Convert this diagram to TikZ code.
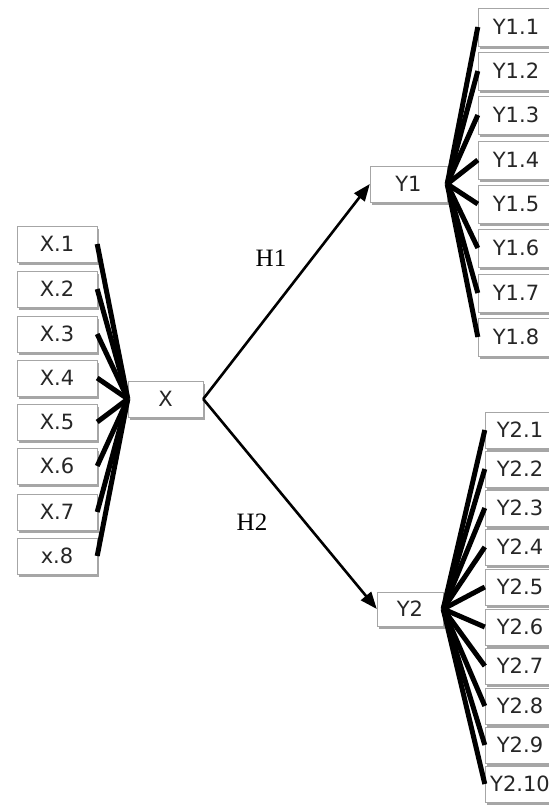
\documentclass[tikz,border=0pt]{standalone}
\usepackage{fontspec}
\setmainfont{DejaVu Sans}
\newfontfamily\hfont{Liberation Serif}
\usetikzlibrary{arrows.meta,shadows}

\tikzset{
  item/.style={draw=gray!70, fill=white, minimum height=36pt, inner sep=0pt,
    text=black!85, font=\fontsize{21}{24}\selectfont,
    drop shadow={shadow xshift=2pt, shadow yshift=-2.5pt, fill=gray!70, opacity=1}},
  fan/.style={line width=5pt},
  hyp/.style={line width=2.6pt, -{Triangle[length=17pt,width=13pt]}},
  hlabel/.style={font=\hfont\fontsize{25}{28}\selectfont}
}

\begin{document}
\begin{tikzpicture}[x=1pt,y=-1pt]
\useasboundingbox (0,0) rectangle (549,807);

% left side
\node[item,minimum width=75pt] (X) at (165.5,399) {X};
\foreach \i/\y/\t in {1/244/X.1,2/289/X.2,3/334/X.3,4/378/X.4,5/422/X.5,6/466/X.6,7/512/X.7,8/556/x.8}
  \node[item,minimum width=80pt] (x\i) at (57,\y) {\t};
\foreach \i in {1,...,8}
  \draw[fan] (x\i.east) -- (X.west);

% upper branch
\node[item,minimum width=77pt] (Y1) at (408.5,184) {Y1};
\foreach \i/\y in {1/27,2/71,3/115,4/160,5/204,6/248,7/293,8/337}
  \node[item,minimum width=76pt,minimum height=38pt] (y1\i) at (516,\y) {Y1.\i};
\foreach \i in {1,...,8}
  \draw[fan] (Y1.east) -- (y1\i.west);

% lower branch
\node[item,minimum width=66pt,minimum height=34pt] (Y2) at (410,609) {Y2};
\foreach \i/\y in {1/430,2/469,3/508,4/547,5/587,6/627,7/666,8/706,9/745,10/784}
  \node[item,minimum width=70pt] (y2\i) at (520,\y) {Y2.\i};
\foreach \i in {1,...,10}
  \draw[fan] (Y2.east) -- (y2\i.west);

% hypotheses
\draw[hyp] (X.east) -- (Y1.west);
\draw[hyp] (X.east) -- (Y2.west);
\node[hlabel] (h1) at (271,258) {H1};
\node[hlabel] (h2) at (252,522) {H2};
\end{tikzpicture}
\end{document}
